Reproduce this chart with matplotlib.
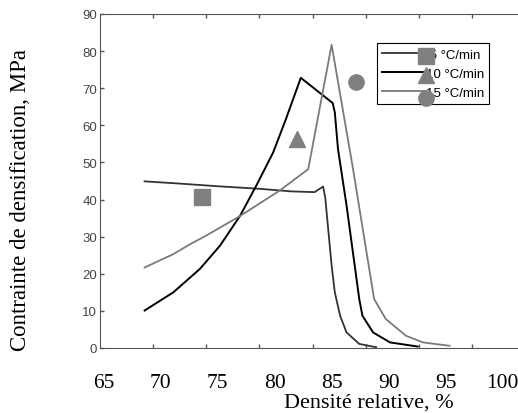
import numpy as np
import matplotlib.pyplot as plt

# curves (relative density %, stress MPa)
x_5 = [69.2, 72.0, 76.0, 80.0, 83.0, 85.2, 86.0, 86.2, 86.8, 87.1, 87.6, 88.2, 89.4, 91.0]
y_5 = [44.9, 44.4, 43.6, 42.9, 42.2, 42.0, 43.5, 40.5, 22.2, 15.0, 8.7, 4.2, 1.1, 0.2]

x_10 = [69.2, 71.9, 74.4, 76.3, 78.2, 79.7, 81.3, 82.5, 83.9, 86.9, 87.1, 87.4, 88.2,
        89.4, 89.7, 90.7, 92.3, 94.9]
y_10 = [10.1, 15.0, 21.3, 27.6, 35.7, 43.7, 52.7, 61.7, 72.8, 66.0, 63.5, 53.6, 38.5,
        13.2, 8.7, 4.2, 1.5, 0.4]

x_15 = [69.2, 71.9, 73.5, 75.0, 78.2, 81.9, 84.6, 86.8, 88.8, 90.8, 91.9, 93.8, 95.4, 97.9]
y_15 = [21.7, 25.3, 28.0, 30.3, 35.6, 42.4, 48.2, 81.7, 48.5, 13.2, 7.8, 3.3, 1.5, 0.6]

# single measured points
pts_x = [74.6, 83.5, 89.1]
pts_y = [40.6, 56.3, 71.6]
pts_marker = ['s', '^', 'o']

labels = [' 5 °C/min', '10 °C/min', '15 °C/min']
x_ticks = [65, 70, 75, 80, 85, 90, 95, 100]
y_ticks = [0, 10, 20, 30, 40, 50, 60, 70, 80, 90]

fig = plt.figure(figsize=(5.18, 4.14), dpi=100)
ax = fig.add_axes([100 / 518, 1 - 349 / 414, 425 / 518, 334 / 414])

l5, = ax.plot(x_5, y_5, color='#333333', lw=1.3)
l10, = ax.plot(x_10, y_10, color='#000000', lw=1.4)
l15, = ax.plot(x_15, y_15, color='#7a7a7a', lw=1.3)

for px, py, m in zip(pts_x, pts_y, pts_marker):
    ax.plot(px, py, marker=m, color='#808080', ms=11, ls='none')

ax.set_xlim(65, 105)
ax.set_ylim(0, 90)
ax.set_xticks(x_ticks[1:])
ax.set_xticklabels([])
ax.set_yticks(y_ticks)
ax.set_yticklabels([str(v) for v in y_ticks], fontsize=9.5, color='#444444',
                   fontfamily='Liberation Sans')
ax.tick_params(direction='in', length=3, color='#555555', top=True, width=1)
ax.tick_params(axis='y', pad=2)
for s in ['left', 'bottom', 'top']:
    ax.spines[s].set_color('#555555')
ax.spines['right'].set_visible(False)

leg = ax.legend([l5, l10, l15], labels, loc='upper left',
                bbox_to_anchor=(0.652, 0.912), fancybox=False, framealpha=1,
                edgecolor='black', prop={'family': 'Liberation Sans', 'size': 9.5},
                handlelength=3.2, handletextpad=0.1, labelspacing=0.5,
                borderpad=0.4, borderaxespad=0)
leg.get_frame().set_linewidth(0.8)

# grey markers pasted over the legend lines
for fy, m in zip([0.873, 0.816, 0.749], pts_marker):
    ax.plot(0.767, fy, marker=m, color='#808080', ms=11, ls='none',
            transform=ax.transAxes, clip_on=False, zorder=10)

# the printed x labels sit on a slightly stretched scale vs. the axis ticks
lab = ax.secondary_xaxis('bottom', functions=(lambda x: 65 + (x - 65.376) * 0.9333,
                                              lambda v: 65.376 + (v - 65) / 0.9333))
lab.set_xticks(x_ticks)
lab.set_xticklabels([str(v) for v in x_ticks], fontsize=15.5,
                    fontfamily='Liberation Serif')
lab.tick_params(length=0, pad=18)
lab.spines['bottom'].set_visible(False)

fig.text(369 / 518, 1 - 403 / 414, 'Densité relative, %', ha='center', va='center',
         fontsize=16, fontfamily='Liberation Serif')
fig.text(21 / 518, 1 - 200 / 414, 'Contrainte de densification, MPa', ha='center',
         va='center', rotation=90, fontsize=16.5, fontfamily='Liberation Serif')

fig.savefig('out.png', dpi=100)
